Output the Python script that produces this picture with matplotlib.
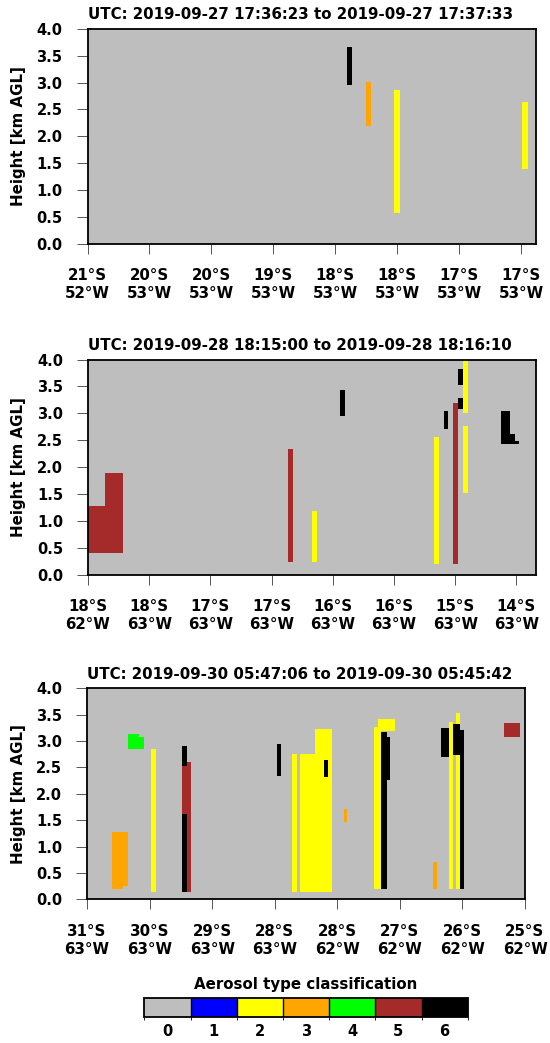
import matplotlib
matplotlib.use('Agg')
import matplotlib.pyplot as plt
from matplotlib.colors import ListedColormap, BoundaryNorm
import matplotlib.colorbar as mcolorbar
import numpy as np

plt.rcParams['font.family'] = 'DejaVu Sans'
plt.rcParams['font.weight'] = 'bold'

# aerosol classes 0..6
class_ids = [0, 1, 2, 3, 4, 5, 6]
class_colors = ['#BEBEBE', '#0000FF', '#FFFF00', '#FFA500', '#00FF00', '#A52A2A', '#000000']

# panel 1
title1 = 'UTC: 2019-09-27 17:36:23 to 2019-09-27 17:37:33'
lat1 = ['21°S', '20°S', '20°S', '19°S', '18°S', '18°S', '17°S', '17°S']
lon1 = ['52°W', '53°W', '53°W', '53°W', '53°W', '53°W', '53°W', '53°W']
xmax1 = 72.3
p1_x0 = [41.8, 44.9, 49.5, 70.2]
p1_x1 = [42.7, 45.8, 50.4, 71.1]
p1_bot = [2.95, 2.19, 0.57, 1.38]
p1_top = [3.67, 3.01, 2.86, 2.63]
p1_cls = [6, 3, 2, 2]

# panel 2
title2 = 'UTC: 2019-09-28 18:15:00 to 2019-09-28 18:16:10'
lat2 = ['18°S', '18°S', '17°S', '17°S', '16°S', '16°S', '15°S', '14°S']
lon2 = ['62°W', '63°W', '63°W', '63°W', '63°W', '63°W', '63°W', '63°W']
xmax2 = 73.2
p2_x0 = [0.0, 2.8, 32.7, 36.6, 41.2, 56.5, 58.2, 59.7, 60.5, 60.5, 61.2, 61.2, 67.4, 68.9, 69.8]
p2_x1 = [2.8, 5.8, 33.5, 37.4, 42.0, 57.4, 58.9, 60.5, 61.2, 61.2, 62.1, 62.1, 68.9, 69.8, 70.5]
p2_bot = [0.40, 0.40, 0.25, 0.25, 2.95, 0.20, 2.71, 0.20, 3.53, 3.09, 3.00, 1.52, 2.43, 2.43, 2.43]
p2_top = [1.29, 1.90, 2.33, 1.19, 3.43, 2.57, 3.05, 3.20, 3.82, 3.28, 4.00, 2.76, 3.05, 2.61, 2.49]
p2_cls = [5, 5, 5, 2, 6, 2, 6, 5, 6, 6, 2, 2, 6, 6, 6]

# panel 3
title3 = 'UTC: 2019-09-30 05:47:06 to 2019-09-30 05:45:42'
lat3 = ['31°S', '30°S', '29°S', '28°S', '28°S', '27°S', '26°S', '25°S']
lon3 = ['63°W', '63°W', '63°W', '63°W', '62°W', '62°W', '62°W', '62°W']
xmax3 = 70.0
p3_x0 = [4.0, 5.8, 6.55, 8.3, 10.3, 15.2, 15.2, 15.2, 16.0, 30.35, 32.75, 34.0, 36.5, 37.9,
         41.05, 45.9, 46.5, 47.0, 47.9, 55.3, 56.6, 57.8, 58.5, 59.0, 59.0, 59.0, 59.6, 66.6]
p3_x1 = [5.8, 6.55, 8.3, 9.1, 11.0, 16.0, 16.0, 16.0, 16.55, 31.0, 33.55, 36.5, 39.1, 38.5,
         41.6, 47.0, 49.2, 47.9, 48.5, 55.9, 57.8, 58.5, 59.0, 59.6, 59.6, 59.6, 60.3, 69.2]
p3_bot = [0.19, 0.25, 2.85, 2.85, 0.14, 2.53, 1.61, 0.14, 0.14, 2.34, 0.14, 0.14, 0.14, 2.32,
          1.47, 0.19, 3.19, 0.19, 2.27, 0.19, 2.70, 0.19, 2.74, 0.19, 3.32, 2.74, 0.19, 3.08]
p3_top = [1.28, 1.28, 3.13, 3.08, 2.85, 2.90, 2.53, 1.61, 2.61, 2.94, 2.76, 2.76, 3.22, 2.65,
          1.71, 3.27, 3.42, 3.18, 3.08, 0.71, 3.25, 3.37, 3.32, 2.74, 3.53, 3.32, 3.21, 3.34]
p3_cls = [3, 3, 4, 4, 2, 6, 5, 6, 5, 6, 2, 2, 2, 6,
          3, 2, 2, 6, 6, 3, 6, 2, 6, 2, 2, 6, 6, 5]

yticks = [0.0, 0.5, 1.0, 1.5, 2.0, 2.5, 3.0, 3.5, 4.0]

W, H = 550, 1043
fig = plt.figure(figsize=(W / 100, H / 100), dpi=100)


def px_axes(left, right, top, bottom):
    return fig.add_axes([left / W, 1 - bottom / H, (right - left) / W, (bottom - top) / H])


def draw_panel(ax, x0, x1, bot, top, cls, xmax, lat, lon, title):
    ax.set_facecolor(class_colors[0])
    x0 = np.array(x0)
    x1 = np.array(x1)
    bot = np.array(bot)
    top = np.array(top)
    ax.bar(x0, top - bot, width=x1 - x0, bottom=bot, align='edge',
           color=[class_colors[c] for c in cls], linewidth=0)
    ax.set_xlim(0, xmax)
    ax.set_ylim(0, 4)
    ax.set_yticks(yticks)
    ax.set_yticklabels([f'{v:.1f}' for v in yticks], fontsize=10.5, fontweight='bold')
    ax.set_xticks(np.arange(0, 80, 10))
    ax.set_xticklabels([f'{a}\n{b}' for a, b in zip(lat, lon)], fontsize=10.8,
                       fontweight='bold', linespacing=1.25)
    ax.tick_params(axis='y', length=8, width=0.7, color='#555555', pad=10)
    ax.tick_params(axis='x', length=7.5, width=0.7, color='#555555', pad=10)
    for s in ax.spines.values():
        s.set_linewidth(1.3)
    ax.set_ylabel('Height [km AGL]', fontsize=10.8, fontweight='bold')
    # rotated label: its right edge about 26 px from the figure's left edge
    pos = ax.get_position()
    ax.yaxis.set_label_coords(-(pos.x0 * W - 26) / (pos.width * W), 0.5)
    ax.annotate(title, xy=(0, 1), xycoords='axes fraction', xytext=(0, 7),
                textcoords='offset points', ha='left', va='baseline',
                fontsize=10.8, fontweight='bold')


ax1 = px_axes(87.5, 535.5, 29, 243.5)
draw_panel(ax1, p1_x0, p1_x1, p1_bot, p1_top, p1_cls, xmax1, lat1, lon1, title1)
ax2 = px_axes(88, 536, 359.5, 575)
draw_panel(ax2, p2_x0, p2_x1, p2_bot, p2_top, p2_cls, xmax2, lat2, lon2, title2)
ax3 = px_axes(87, 525, 688.3, 899.3)
draw_panel(ax3, p3_x0, p3_x1, p3_bot, p3_top, p3_cls, xmax3, lat3, lon3, title3)

# colour bar
cax = px_axes(144.3, 467.7, 997.7, 1016.7)
cmap = ListedColormap(class_colors)
norm = BoundaryNorm(np.arange(-0.5, 7.5, 1), cmap.N)
cb = mcolorbar.ColorbarBase(cax, cmap=cmap, norm=norm, orientation='horizontal',
                            ticks=class_ids, drawedges=True)
cb.outline.set_linewidth(1.3)
cb.dividers.set_linewidth(1.0)
cb.dividers.set_color('black')
cax.tick_params(length=0, pad=5)
cax.set_xticklabels([str(c) for c in class_ids], fontsize=10.5, fontweight='bold')
fig.text(306 / W, 1 - 989.3 / H, 'Aerosol type classification', ha='center',
         va='baseline', fontsize=10.8, fontweight='bold')

fig.savefig('out.png', dpi=100)
